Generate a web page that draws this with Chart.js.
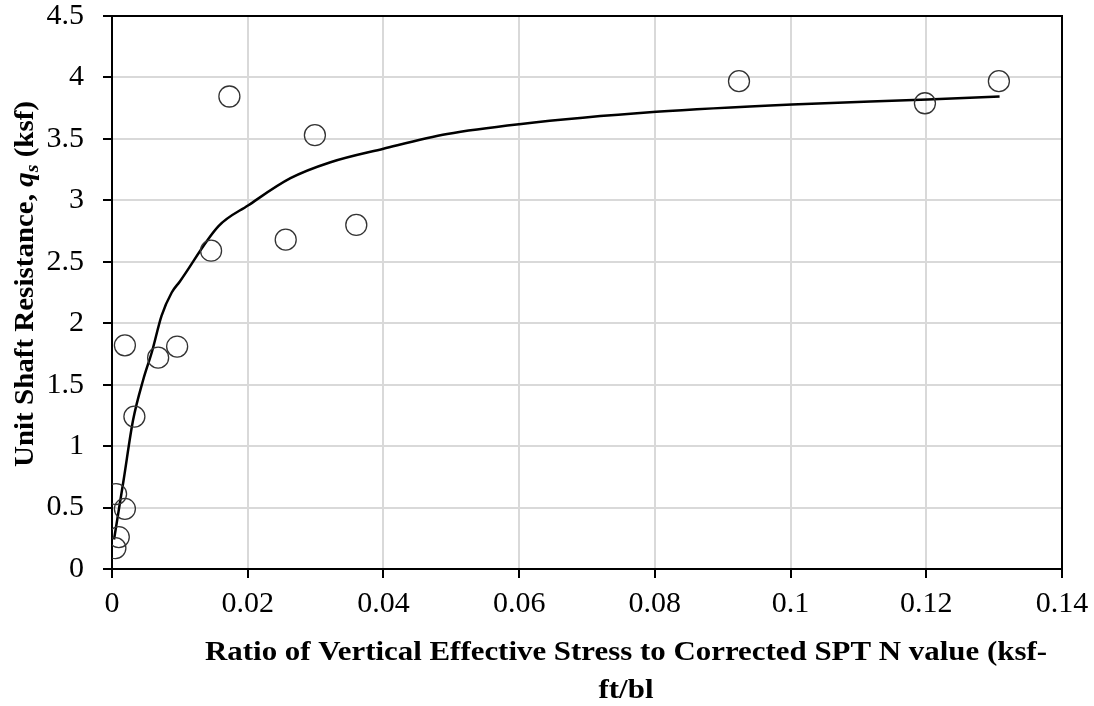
<!DOCTYPE html>
<html>
<head>
<meta charset="utf-8">
<script src="https://cdn.jsdelivr.net/npm/chart.js@4"></script>
<style>
  html, body { margin: 0; padding: 0; background: #fff; }
  #wrap { width: 1094px; height: 706px; }
</style>
</head>
<body>
<div id="wrap"><canvas id="qsChart" width="1094" height="706"></canvas></div>
<script>
// measured points (ratio sigma'v / N60, unit shaft resistance qs)
const obsX = [0.0005, 0.0010, 0.0006, 0.0019, 0.0033, 0.0019, 0.0068, 0.0096, 0.0146, 0.0173, 0.0256, 0.0299, 0.0360, 0.0924, 0.1198, 0.1307];
const obsY = [0.17, 0.26, 0.61, 0.49, 1.24, 1.82, 1.72, 1.81, 2.59, 3.845, 2.68, 3.53, 2.80, 3.97, 3.79, 3.97];

// fitted trend curve
const fitX = [0.0003, 0.0017, 0.0031, 0.0046, 0.0059, 0.0073, 0.0088, 0.0100, 0.0157, 0.0201, 0.0263, 0.0322, 0.0400, 0.0494, 0.0600, 0.0802, 0.1002, 0.1202, 0.1308];
const fitY = [0.24, 0.72, 1.21, 1.54, 1.77, 2.06, 2.25, 2.34, 2.79, 2.96, 3.18, 3.31, 3.42, 3.54, 3.62, 3.72, 3.78, 3.82, 3.845];

const xTickLabels = ["0", "0.02", "0.04", "0.06", "0.08", "0.1", "0.12", "0.14"];
const yTickLabels = ["0", "0.5", "1", "1.5", "2", "2.5", "3", "3.5", "4", "4.5"];

const xTitleLines = ["Ratio of Vertical Effective Stress to Corrected SPT N value (ksf-", "ft/bl"];
const yTitleParts = [
  { text: "Unit Shaft Resistance, ", style: "bold", size: 28, sub: false },
  { text: "q", style: "italic bold", size: 28, sub: false },
  { text: "s", style: "italic bold", size: 19, sub: true },
  { text: " (ksf)", style: "bold", size: 28, sub: false }
];

const serif = '"Liberation Serif", "Times New Roman", serif';

// ----- frame + axis titles -----
const titlesPlugin = {
  id: "titles",
  afterDraw(chart) {
    const { ctx, chartArea: a } = chart;
    ctx.save();

    // top and right frame
    ctx.strokeStyle = "#000";
    ctx.lineWidth = 2;
    ctx.beginPath();
    ctx.moveTo(a.left, a.top);
    ctx.lineTo(a.right, a.top);
    ctx.lineTo(a.right, a.bottom);
    ctx.stroke();

    ctx.fillStyle = "#000";

    // x title, two centred lines, a bit condensed like the original
    ctx.font = "bold 28px " + serif;
    ctx.textBaseline = "alphabetic";
    const w1 = ctx.measureText(xTitleLines[0]).width;
    const sx = 842 / w1;
    const cx = 626;
    [660, 698].forEach((base, i) => {
      const w = ctx.measureText(xTitleLines[i]).width;
      ctx.save();
      ctx.translate(cx, base);
      ctx.scale(sx, 1);
      ctx.fillText(xTitleLines[i], -w / 2, 0);
      ctx.restore();
    });

    // y title, rotated, with italic q and subscript s
    let total = 0;
    yTitleParts.forEach(p => {
      ctx.font = p.style + " " + p.size + "px " + serif;
      p.w = ctx.measureText(p.text).width;
      total += p.w;
    });
    const sy = 366 / total;
    ctx.save();
    ctx.translate(24, 284);
    ctx.rotate(-Math.PI / 2);
    ctx.scale(sy, 1);
    let x = -total / 2;
    yTitleParts.forEach(p => {
      ctx.font = p.style + " " + p.size + "px " + serif;
      ctx.fillText(p.text, x, p.sub ? 14 : 9);
      x += p.w;
    });
    ctx.restore();

    ctx.restore();
  }
};

new Chart(document.getElementById("qsChart"), {
  type: "scatter",
  data: {
    datasets: [
      {
        label: "Trend",
        data: fitX.map((x, i) => ({ x: x, y: fitY[i] })),
        showLine: true,
        borderColor: "#000",
        borderWidth: 2.5,
        pointRadius: 0,
        cubicInterpolationMode: "monotone",
        order: 2
      },
      {
        label: "Measured",
        data: obsX.map((x, i) => ({ x: x, y: obsY[i] })),
        pointStyle: "circle",
        pointRadius: 10.5,
        pointBorderWidth: 1.3,
        pointBorderColor: "#333",
        pointBackgroundColor: "rgba(255,255,255,0)",
        order: 1
      }
    ]
  },
  options: {
    responsive: false,
    animation: false,
    layout: { padding: { top: 16, right: 32, left: 0, bottom: 0 } },
    plugins: {
      legend: { display: false },
      tooltip: { enabled: false }
    },
    scales: {
      x: {
        type: "linear",
        min: 0,
        max: 0.14,
        afterFit: (s) => {
          s.height = 137;
          s.paddingLeft = 0;
          s.paddingRight = 0;
        },
        afterBuildTicks: (s) => {
          s.ticks = xTickLabels.map((t, i) => ({ value: i * 0.02 }));
        },
        ticks: {
          callback: (v, i) => xTickLabels[i],
          font: { family: serif, size: 30 },
          color: "#000",
          padding: 8,
          maxRotation: 0
        },
        grid: {
          color: "#d9d9d9",
          lineWidth: 2,
          tickColor: "#000",
          tickWidth: 2,
          tickLength: 9
        },
        border: { color: "#000", width: 2 }
      },
      y: {
        type: "linear",
        min: 0,
        max: 4.5,
        afterFit: (s) => {
          s.width = 112;
          s.paddingTop = 0;
          s.paddingBottom = 0;
        },
        afterBuildTicks: (s) => {
          s.ticks = yTickLabels.map((t, i) => ({ value: i * 0.5 }));
        },
        ticks: {
          callback: (v, i) => yTickLabels[i],
          font: { family: serif, size: 30 },
          color: "#000",
          padding: 19
        },
        grid: {
          color: "#d9d9d9",
          lineWidth: 2,
          tickColor: "#000",
          tickWidth: 2,
          tickLength: 9
        },
        border: { color: "#000", width: 2 }
      }
    }
  },
  plugins: [titlesPlugin]
});
</script>
</body>
</html>
